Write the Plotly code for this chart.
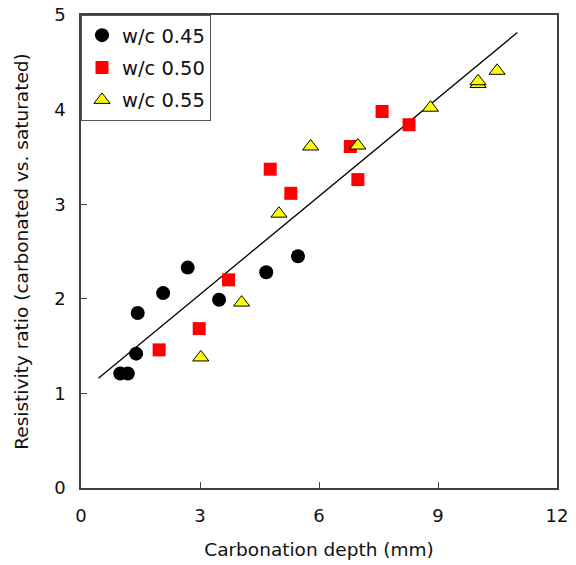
import plotly.graph_objects as go

# Data
wc045_x = [0.99, 1.18, 1.39, 1.43, 2.07, 2.69, 3.48, 4.67, 5.47]
wc045_y = [1.21, 1.21, 1.42, 1.85, 2.06, 2.33, 1.99, 2.28, 2.45]

wc050_x = [1.97, 2.98, 3.72, 4.77, 5.29, 6.79, 6.98, 7.59, 8.27]
wc050_y = [1.46, 1.685, 2.20, 3.37, 3.115, 3.61, 3.26, 3.98, 3.84]

wc055_x = [3.02, 4.05, 4.99, 5.79, 6.98, 8.81, 10.01, 10.01, 10.49]
wc055_y = [1.38, 1.96, 2.90, 3.61, 3.62, 4.02, 4.27, 4.30, 4.41]

trend_x = [0.44, 11.0]
trend_y = [1.16, 4.815]

series_names = ["w/c 0.45", "w/c 0.50", "w/c 0.55"]
x_ticks = [0, 3, 6, 9, 12]
y_ticks = [0, 1, 2, 3, 4, 5]

FONT = "DejaVu Sans"

fig = go.Figure()
fig.add_trace(go.Scatter(x=trend_x, y=trend_y, mode="lines",
                         line=dict(color="black", width=1.3),
                         showlegend=False, hoverinfo="skip"))
fig.add_trace(go.Scatter(x=wc045_x, y=wc045_y, mode="markers", name=series_names[0],
                         legendgroup="a",
                         marker=dict(symbol="circle", size=14, color="black")))
fig.add_trace(go.Scatter(x=wc050_x, y=wc050_y, mode="markers", name=series_names[1],
                         legendgroup="b",
                         marker=dict(symbol="square", size=13, color="#FF0000")))
fig.add_trace(go.Scatter(x=wc055_x, y=wc055_y, mode="markers", name=series_names[2],
                         legendgroup="c",
                         marker=dict(symbol="triangle-up", size=14, color="#FFFF00",
                                     line=dict(color="black", width=1))))

axis_common = dict(showgrid=False, zeroline=False, showline=True, mirror=True,
                   linecolor="#404040", linewidth=1.5, ticks="inside", ticklen=6,
                   tickcolor="#404040", tickwidth=1, automargin=False,
                   ticklabeloverflow="allow",
                   tickfont=dict(family=FONT, size=18, color="#111"))

fig.update_xaxes(range=[0, 12], tickvals=x_ticks, ticklabelstandoff=11,
                 title=dict(text="Carbonation depth (mm)", standoff=18,
                            font=dict(family=FONT, size=18.5, color="#111")),
                 **axis_common)
fig.update_yaxes(range=[0, 5], tickvals=y_ticks, ticklabelstandoff=10,
                 title=dict(text="Resistivity ratio (carbonated vs. saturated)", standoff=21,
                            font=dict(family=FONT, size=18.5, color="#111")),
                 **axis_common)

fig.update_layout(
    template="none",
    width=576, height=565,
    margin=dict(l=81, r=19, t=15, b=77),
    paper_bgcolor="white", plot_bgcolor="white",
    font=dict(family=FONT, color="#111"),
    legend=dict(x=0, y=1, xanchor="left", yanchor="top",
                bgcolor="white", bordercolor="#555", borderwidth=1,
                font=dict(family=FONT, size=19.5, color="#111"),
                tracegroupgap=4, itemwidth=30),
)

fig.write_html("out.html", config={"displayModeBar": False},
               post_script="document.body.style.margin='0';")
